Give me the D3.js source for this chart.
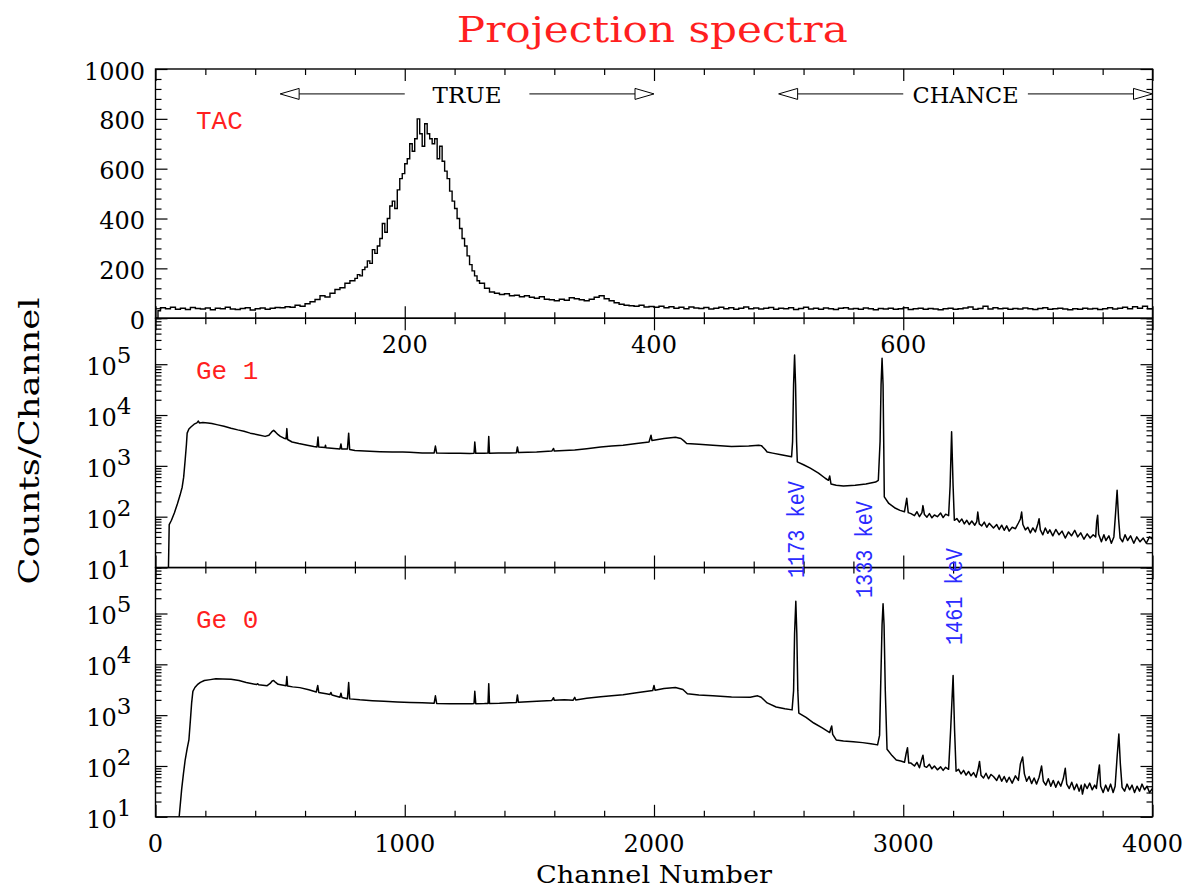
<!DOCTYPE html>
<html>
<head>
<meta charset="utf-8">
<script src="https://cdn.jsdelivr.net/npm/d3@7"></script>
<style>
  html, body { margin: 0; padding: 0; background: #fff; }
  svg { display: block; }
</style>
</head>
<body>
<svg id="chart" width="1188" height="888"></svg>
<script>
// ===== data =====

// TAC projection: [tac channel (bin start), counts]
const tacSpectrum = [
  [0,0],[2,30],[4,42],[8,38],[12,44],[16,36],[20,40],[24,35],[28,43],[32,39],[36,37],[40,41],[44,34],[48,40],
  [52,38],[56,44],[60,37],[64,35],[68,39],[72,42],[76,33],[80,38],[84,41],[88,36],[92,40],[96,43],
  [100,42],[104,46],[108,44],[112,52],[116,48],[120,58],[124,66],[128,75],[132,90],[136,85],[140,100],
  [144,115],[148,122],[152,140],[156,150],
  [160,160],[162,175],[164,170],[166,195],[168,205],[170,230],[172,220],[174,275],[176,260],[178,290],
  [180,320],[182,380],[184,345],[186,400],[188,450],[190,470],[192,440],[194,515],[196,560],[198,580],
  [200,620],[202,640],[204,700],[206,670],[208,720],[210,800],[212,740],[214,690],[216,780],[218,740],
  [220,720],[222,700],[224,720],[226,640],[228,690],[230,630],[232,590],[234,560],[236,510],[238,470],
  [240,440],[242,400],[244,360],[246,320],[248,290],[250,250],[252,215],[254,190],[256,170],[258,150],
  [260,140],[264,120],[268,105],[272,100],[276,95],[280,98],[284,90],[288,92],[292,86],[296,90],
  [300,84],[304,80],[308,86],[312,76],[316,74],[320,70],[324,76],[328,72],[332,82],[336,78],
  [340,74],[344,70],[348,76],[352,84],[356,90],[360,78],
  [364,70],[368,62],[372,56],[376,52],[380,50],[384,48],[388,52],[392,45],[396,47],[400,44],
  [404,48],[408,42],[412,46],[416,40],[420,44],[424,38],[428,45],[432,41],[436,39],[440,43],
  [444,37],[448,40],[452,44],[456,38],[460,42],[464,36],[468,40],[472,45],[476,38],[480,41],
  [484,37],[488,40],[492,43],[496,36],[500,40],[504,38],[508,42],[512,35],[516,39],[520,44],
  [524,37],[528,40],[532,36],[536,41],[540,38],[544,35],[548,40],[552,42],[556,37],[560,39],
  [564,36],[568,41],[572,38],[576,34],[580,39],[584,37],[588,40],[592,36],[596,38],[600,42],
  [604,35],[608,38],[612,40],[616,36],[620,39],[624,37],[628,34],[632,38],[636,40],[640,36],
  [644,38],[648,41],[652,45],[656,36],[660,39],[664,48],[668,37],[672,42],[676,38],[680,40],
  [684,36],[688,39],[692,37],[696,41],[700,38],[704,35],[708,39],[712,42],[716,36],[720,38],
  [724,40],[728,37],[732,34],[736,38],[740,36],[744,40],[748,37],[752,39],[756,35],[760,38],
  [764,42],[768,37],[772,40],[776,44],[780,38],[784,46],[788,40],[792,48],[796,38],[800,38]
];

// Ge 1 projection: [channel, counts]
const ge1Spectrum = [
  [52,5],[55,70],[64,85],[76,120],[88,180],[98,260],[107,380],[113,600],[119,1300],[124,2600],
  [127,4400],[134,5300],[142,5800],[155,6600],[166,7000],[172,7600],[176,7000],[190,7100],[210,7000],
  [226,6800],[250,6400],[275,6000],[303,5500],[330,5100],[355,4800],[380,4400],[410,4100],[440,3800],
  [455,4000],[467,4700],[474,5000],[482,4600],[492,4100],[501,3800],[515,3500],[524,3400],[527,5400],
  [530,3300],[548,2950],[575,2750],[609,2550],[635,2400],[648,2350],[652,3700],[655,2350],[680,2300],
  [682,2550],[684,2280],[717,2200],[740,2150],[744,2700],[747,2150],[770,2150],[775,4400],[779,2100],
  [800,2000],[839,1950],[900,1900],[950,1880],[992,1870],[1020,1850],[1070,1780],[1118,1800],
  [1123,2450],[1128,1780],[1180,1760],[1222,1760],[1260,1750],[1278,1770],[1281,2950],[1285,1760],
  [1320,1760],[1334,1780],[1337,3800],[1340,1760],[1375,1780],[1420,1800],[1448,1820],[1452,2350],
  [1456,1830],[1529,1870],[1590,1950],[1597,2200],[1600,1960],[1640,2000],[1682,2050],[1730,2180],
  [1786,2350],[1830,2450],[1876,2550],[1930,2750],[1980,2950],[1988,4000],[1992,3150],[2040,3450],
  [2086,3650],[2108,3450],[2120,3100],[2131,2750],[2180,2650],[2236,2550],[2311,2400],[2380,2450],
  [2420,2550],[2431,2500],[2446,2100],[2454,1870],[2476,1780],[2510,1650],[2552,1510],[2556,3000],
  [2560,40000],[2564,151000],[2568,40000],[2572,3000],[2575,1200],[2600,1050],[2627,900],[2660,720],
  [2687,570],[2700,520],[2705,630],[2710,440],[2731,415],[2760,400],[2807,415],[2850,440],[2889,480],
  [2900,520],[2907,3000],[2911,40000],[2915,131000],[2919,40000],[2922,2000],[2924,245],[2942,182],
  [2965,150],[2987,133],[3005,125],[3014,230],[3020,120],[3031,115],[3045,105],[3055,125],[3065,100],
  [3075,120],[3079,165],[3085,110],[3095,98],[3105,115],[3115,95],[3125,108],[3137,100],[3150,118],
  [3160,96],[3170,112],[3182,105],[3188,400],[3194,4700],[3200,400],[3205,85],[3215,92],[3225,78],
  [3235,90],[3245,72],[3255,85],[3265,70],[3275,82],[3287,68],[3295,80],[3299,123],[3305,72],
  [3315,66],[3325,78],[3335,62],[3345,74],[3362,60],[3375,70],[3385,56],[3395,68],[3405,54],
  [3415,66],[3425,52],[3437,62],[3450,58],[3462,75],[3470,90],[3475,123],[3480,70],[3490,55],
  [3500,62],[3510,48],[3520,60],[3530,50],[3540,72],[3545,91],[3550,55],[3560,44],[3570,60],
  [3580,47],[3588,55],[3600,42],[3612,56],[3625,44],[3637,52],[3650,38],[3663,50],[3675,42],
  [3688,54],[3700,40],[3712,48],[3725,36],[3738,46],[3750,38],[3762,44],[3772,40],[3776,80],
  [3780,107],[3784,45],[3795,32],[3805,44],[3813,34],[3825,42],[3835,30],[3845,40],[3852,120],
  [3858,330],[3864,90],[3870,38],[3880,32],[3890,44],[3900,34],[3912,42],[3925,30],[3937,40],
  [3950,32],[3963,38],[3975,30],[3988,40],[4000,36]
];

// Ge 0 projection: [channel, counts]
const ge0Spectrum = [
  [95,5],[105,35],[112,70],[119,131],[127,220],[134,325],[140,800],[145,1740],[150,2940],[158,3500],
  [168,3970],[180,4400],[196,4800],[220,5000],[242,5200],[270,5150],[303,5100],[335,4800],[364,4400],
  [405,4000],[410,4150],[414,3950],[448,3800],[460,4200],[468,4700],[474,4800],[482,4400],[492,4050],
  [502,3970],[524,3800],[527,5750],[530,3750],[550,3600],[579,3480],[615,3150],[645,2850],[651,3830],
  [655,2800],[685,2640],[700,2560],[704,2800],[708,2500],[740,2250],[744,2700],[748,2230],[770,2100],
  [775,4380],[779,2090],[820,2000],[870,1930],[916,1870],[970,1820],[1023,1780],[1070,1760],
  [1118,1720],[1123,2400],[1128,1700],[1180,1680],[1222,1670],[1270,1680],[1278,1690],[1281,2940],
  [1285,1680],[1320,1690],[1334,1700],[1337,4170],[1340,1700],[1380,1720],[1420,1760],[1448,1780],
  [1452,2500],[1456,1790],[1530,1870],[1590,1950],[1597,2200],[1600,1960],[1640,2000],[1675,1960],
  [1682,2240],[1686,1990],[1730,2150],[1786,2300],[1830,2400],[1876,2510],[1930,2750],[1995,3050],
  [2000,3830],[2004,3100],[2040,3350],[2086,3500],[2116,3200],[2134,2640],[2180,2500],[2236,2400],
  [2311,2280],[2386,2240],[2405,2350],[2416,2400],[2430,2250],[2454,1740],[2490,1450],[2525,1330],
  [2554,1270],[2560,3000],[2564,40000],[2569,174000],[2573,40000],[2577,3000],[2581,1100],[2610,900],
  [2641,700],[2675,560],[2705,455],[2709,540],[2713,612],[2717,420],[2731,325],[2760,310],[2800,300],
  [2837,288],[2870,275],[2897,260],[2905,400],[2910,5000],[2915,60000],[2919,156000],[2923,60000],
  [2928,3000],[2935,213],[2955,160],[2972,131],[2990,125],[3005,118],[3012,180],[3017,229],[3022,115],
  [3031,114],[3045,100],[3055,118],[3065,92],[3074,135],[3079,163],[3085,98],[3094,94],[3105,108],
  [3115,88],[3125,100],[3137,84],[3150,96],[3160,82],[3170,94],[3182,86],[3190,500],[3200,6000],
  [3206,500],[3212,79],[3222,86],[3232,70],[3242,82],[3252,66],[3262,78],[3272,64],[3282,74],
  [3292,60],[3300,85],[3306,123],[3312,66],[3322,58],[3332,72],[3342,56],[3352,68],[3362,62],
  [3375,52],[3385,66],[3395,50],[3405,62],[3415,48],[3425,60],[3437,46],[3450,64],[3462,52],
  [3470,110],[3479,150],[3486,70],[3495,50],[3505,62],[3515,45],[3525,58],[3535,44],[3545,60],
  [3555,100],[3562,50],[3572,42],[3582,56],[3592,40],[3602,52],[3612,38],[3622,50],[3632,40],
  [3642,56],[3650,90],[3656,44],[3666,36],[3676,48],[3686,34],[3696,44],[3706,32],[3714,42],
  [3719,28],[3728,44],[3738,36],[3748,46],[3758,34],[3768,42],[3775,36],[3782,70],[3787,105],
  [3792,40],[3802,30],[3812,42],[3822,32],[3832,44],[3842,30],[3850,40],[3858,150],[3865,425],
  [3871,110],[3878,38],[3888,32],[3898,44],[3908,34],[3918,42],[3928,30],[3938,40],[3948,32],
  [3958,44],[3968,34],[3978,40],[3988,30],[4000,36]
];

// TAC gates (tac channels)
const gateLabels = ['TRUE', 'CHANCE'];
const gateFrom = [100, 500];
const gateTo = [400, 800];
const gateLevel = 900; // counts

// gamma line labels and the peak channels they sit next to
const peakLabels = ['1173 keV', '1333 keV', '1461 keV'];
const peakChannels = [2564, 2915, 3194];

const panelNames = ['TAC', 'Ge 1', 'Ge 0'];

// tick labels
const tacYTicks = [0, 200, 400, 600, 800, 1000];
const tacXLabels = [200, 400, 600];
const chanXLabels = [0, 1000, 2000, 3000, 4000];
const logDecades = [1, 2, 3, 4, 5];

// ===== layout =====
const L = 155.5, R = 1152.5;
const panelTop = [69, 318.3, 567.6];
const panelH = 249.2;
const RED = '#ff1f1f', BLUE = '#2b2bff';
const SERIF = '"DejaVu Serif", serif';
const MONO = '"Liberation Mono", monospace';

const svg = d3.select('#chart');

// scales
const xChan = d3.scaleLinear().domain([0, 4000]).range([L, R]);
const xTac = d3.scaleLinear().domain([0, 800]).range([L, R]);
const yTac = d3.scaleLinear().domain([0, 1000]).range([panelTop[0] + panelH, panelTop[0]]);
const yGe1 = d3.scaleLog().domain([10, 8e5]).range([panelTop[1] + panelH, panelTop[1]]).clamp(true);
const yGe0 = d3.scaleLog().domain([10, 8e5]).range([panelTop[2] + panelH, panelTop[2]]).clamp(true);

// tick positions
const chanMajor = [0, 1000, 2000, 3000, 4000];
const chanMinor = d3.range(0, 4001, 200).filter(v => v % 1000);
const tacYMinor = d3.range(0, 1001, 40).filter(v => v % 200);
const logMajor = logDecades.map(d => Math.pow(10, d));
const logMinor = [];
logDecades.forEach(d => { for (let k = 2; k <= 9; k++) { const v = k * Math.pow(10, d); if (v <= 8e5) logMinor.push(v); } });

// inward ticks on all four sides of a panel
function drawTicks(y, yMajor, yMinor) {
  const top = y.range()[1], bottom = y.range()[0];
  const g = svg.append('g');
  const sides = [
    [() => d3.axisTop(xChan), `translate(0,${top})`, chanMajor, chanMinor],
    [() => d3.axisBottom(xChan), `translate(0,${bottom})`, chanMajor, chanMinor],
    [() => d3.axisLeft(y), `translate(${L},0)`, yMajor, yMinor],
    [() => d3.axisRight(y), `translate(${R},0)`, yMajor, yMinor]
  ];
  sides.forEach(([mk, tr, major, minor]) => {
    [[major, -12], [minor, -6]].forEach(([vals, size]) => {
      const a = g.append('g').attr('transform', tr)
        .call(mk().tickValues(vals).tickSize(size).tickSizeOuter(0).tickFormat(''));
      a.select('.domain').remove();
      a.selectAll('line').attr('stroke', '#000').attr('stroke-width', 1.2);
    });
  });
  // frame
  g.append('rect')
    .attr('x', L).attr('y', top)
    .attr('width', R - L).attr('height', bottom - top)
    .attr('fill', 'none').attr('stroke', '#000').attr('stroke-width', 1.4);
}

// clip paths
const defs = svg.append('defs');
panelTop.forEach((t, i) => {
  defs.append('clipPath').attr('id', 'clip' + i)
    .append('rect').attr('x', L).attr('y', t).attr('width', R - L).attr('height', panelH);
});

// ----- spectra -----
svg.append('path')
  .datum(tacSpectrum)
  .attr('clip-path', 'url(#clip0)')
  .attr('fill', 'none').attr('stroke', '#000').attr('stroke-width', 1.4)
  .attr('d', d3.line().curve(d3.curveStepAfter).x(d => xTac(d[0])).y(d => yTac(d[1])));

[[ge1Spectrum, yGe1, 1], [ge0Spectrum, yGe0, 2]].forEach(([data, y, i]) => {
  svg.append('path')
    .datum(data)
    .attr('clip-path', `url(#clip${i})`)
    .attr('fill', 'none').attr('stroke', '#000').attr('stroke-width', 1.5)
    .attr('stroke-linejoin', 'round')
    .attr('d', d3.line().x(d => xChan(d[0])).y(d => y(d[1])));
});

// ----- axes -----
drawTicks(yTac, tacYTicks, tacYMinor);
drawTicks(yGe1, logMajor, logMinor);
drawTicks(yGe0, logMajor, logMinor);

// y tick labels, TAC (linear)
svg.append('g').selectAll('text').data(tacYTicks).join('text')
  .attr('x', L - 10.5).attr('y', d => yTac(d) + 10.5)
  .attr('text-anchor', 'end')
  .attr('font-family', SERIF).attr('font-size', 24)
  .text(d => d);

// y tick labels, log panels
[yGe1, yGe0].forEach(y => {
  const t = svg.append('g').selectAll('text').data(logDecades).join('text')
    .attr('x', L - 24).attr('y', d => y(Math.pow(10, d)) + 11)
    .attr('text-anchor', 'end')
    .attr('font-family', SERIF).attr('font-size', 24);
  t.append('tspan').text('10');
  t.append('tspan').attr('dy', -12).attr('font-size', 23).text(d => d);
});

// x tick labels of the TAC panel (sit just below it)
svg.append('g').selectAll('text').data(tacXLabels).join('text')
  .attr('x', d => xTac(d)).attr('y', panelTop[1] + 35)
  .attr('text-anchor', 'middle')
  .attr('font-family', SERIF).attr('font-size', 24)
  .text(d => d);

// bottom x tick labels
svg.append('g').selectAll('text').data(chanXLabels).join('text')
  .attr('x', d => xChan(d)).attr('y', panelTop[2] + panelH + 35)
  .attr('text-anchor', 'middle')
  .attr('font-family', SERIF).attr('font-size', 24)
  .text(d => d);

// ----- gates in TAC panel -----
const gy = yTac(gateLevel);
gateLabels.forEach((lab, i) => {
  const a = gateFrom[i], b = gateTo[i], third = (b - a) / 3;
  const g = svg.append('g').attr('stroke', '#000').attr('stroke-width', 1);
  const xa = xTac(a), xb = xTac(b);
  const ah = 19, aw = 5.5;
  g.append('line').attr('x1', xa + ah).attr('x2', xTac(a + third)).attr('y1', gy).attr('y2', gy);
  g.append('line').attr('x1', xTac(b - third)).attr('x2', xb - ah).attr('y1', gy).attr('y2', gy);
  g.append('polygon').attr('fill', '#fff')
    .attr('points', `${xa},${gy} ${xa + ah},${gy - aw} ${xa + ah},${gy + aw}`);
  g.append('polygon').attr('fill', '#fff')
    .attr('points', `${xb},${gy} ${xb - ah},${gy - aw} ${xb - ah},${gy + aw}`);
  svg.append('text')
    .attr('x', xTac((a + b) / 2)).attr('y', gy + 9)
    .attr('text-anchor', 'middle')
    .attr('font-family', SERIF).attr('font-size', 23)
    .attr('textLength', lab.length > 4 ? 106 : 69).attr('lengthAdjust', 'spacingAndGlyphs')
    .text(lab);
});

// ----- panel names -----
const nameY = [129, 379, 628];
panelNames.forEach((n, i) => {
  svg.append('text')
    .attr('x', 196).attr('y', nameY[i])
    .attr('font-family', MONO).attr('font-size', 26)
    .attr('fill', RED)
    .text(n);
});

// ----- gamma line labels (rotated) -----
const peakOffset = [9, -10.5, 10];       // px from peak to label baseline
const peakStartY = [578, 598, 645];      // where each label begins (bottom end)
peakLabels.forEach((lab, i) => {
  const x = xChan(peakChannels[i]) + peakOffset[i];
  svg.append('text')
    .attr('transform', `translate(${x},${peakStartY[i]}) rotate(-90)`)
    .attr('font-family', MONO).attr('font-size', 23)
    .attr('fill', BLUE)
    .attr('textLength', 97).attr('lengthAdjust', 'spacingAndGlyphs')
    .text(lab);
});

// ----- titles -----
svg.append('text')
  .attr('x', 652.3).attr('y', 42)
  .attr('text-anchor', 'middle')
  .attr('font-family', SERIF).attr('font-size', 35)
  .attr('fill', RED)
  .attr('textLength', 391).attr('lengthAdjust', 'spacingAndGlyphs')
  .text('Projection spectra');

svg.append('text')
  .attr('x', 654).attr('y', 883)
  .attr('text-anchor', 'middle')
  .attr('font-family', SERIF).attr('font-size', 25)
  .attr('textLength', 236).attr('lengthAdjust', 'spacingAndGlyphs')
  .text('Channel Number');

svg.append('text')
  .attr('transform', 'translate(39,441) rotate(-90)')
  .attr('text-anchor', 'middle')
  .attr('font-family', SERIF).attr('font-size', 28)
  .attr('textLength', 287).attr('lengthAdjust', 'spacingAndGlyphs')
  .text('Counts/Channel');
</script>
</body>
</html>
